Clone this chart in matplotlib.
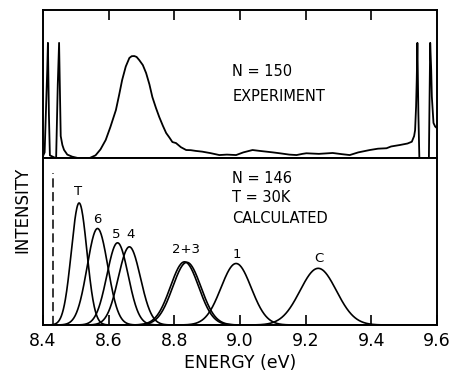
import numpy as np
import matplotlib
matplotlib.use('Agg')
import matplotlib.pyplot as plt

plt.rcParams['font.family'] = 'DejaVu Sans'

exp_energy = [8.397, 8.405, 8.413, 8.415, 8.418, 8.421, 8.440, 8.445, 8.449, 8.452,
              8.454, 8.459, 8.464, 8.474, 8.489, 8.510, 8.540, 8.560, 8.575, 8.591,
              8.605, 8.622, 8.632, 8.641, 8.652, 8.663, 8.670, 8.678, 8.685, 8.693,
              8.704, 8.714, 8.724, 8.733, 8.744, 8.754, 8.765, 8.775, 8.785, 8.794,
              8.805, 8.820, 8.836, 8.850, 8.865, 8.885, 8.910, 8.937, 8.960, 8.988,
              9.010, 9.038, 9.060, 9.080, 9.100, 9.121, 9.150, 9.172, 9.190, 9.202,
              9.240, 9.282, 9.310, 9.334, 9.360, 9.395, 9.420, 9.446, 9.460, 9.487,
              9.510, 9.523, 9.530, 9.533, 9.536, 9.538, 9.540, 9.543, 9.546, 9.575,
              9.577, 9.579, 9.582, 9.584, 9.589, 9.594, 9.599]
exp_intensity = [0.0, 0.04, 0.60, 0.78, 0.30, 0.02, 0.0, 0.50, 0.78, 0.40,
                 0.15, 0.09, 0.057, 0.025, 0.011, 0.0, 0.0, 0.02, 0.06, 0.124,
                 0.21, 0.326, 0.43, 0.529, 0.62, 0.678, 0.69, 0.691, 0.685, 0.664,
                 0.63, 0.576, 0.50, 0.414, 0.34, 0.279, 0.22, 0.171, 0.14, 0.11,
                 0.103, 0.075, 0.056, 0.055, 0.05, 0.045, 0.035, 0.022, 0.025, 0.022,
                 0.04, 0.056, 0.05, 0.045, 0.04, 0.034, 0.025, 0.022, 0.03, 0.034,
                 0.03, 0.036, 0.028, 0.022, 0.04, 0.056, 0.065, 0.068, 0.08, 0.09,
                 0.10, 0.112, 0.15, 0.19, 0.35, 0.53, 0.78, 0.30, 0.0, 0.0,
                 0.40, 0.78, 0.60, 0.416, 0.239, 0.215, 0.205]

# calculated N=146, T=30K bands: centre (eV), peak height, gaussian width (eV)
band_names = ['T', '6', '5', '4', '2', '3', '1', 'C']
band_centre = [8.510, 8.566, 8.627, 8.663, 8.831, 8.838, 8.988, 9.238]
band_height = [0.732, 0.579, 0.493, 0.469, 0.379, 0.376, 0.369, 0.340]
band_sigma = [0.0237, 0.0315, 0.0324, 0.0337, 0.043, 0.043, 0.046, 0.0553]

threshold = 8.4315

xticks = [8.4, 8.6, 8.8, 9.0, 9.2, 9.4, 9.6]
xticklabels = ['8.4', '8.6', '8.8', '9.0', '9.2', '9.4', '9.6']

fig = plt.figure(figsize=(4.53, 3.78), dpi=100)
ax1 = fig.add_axes([0.0949, 0.5812, 0.870, 0.3915])
ax2 = fig.add_axes([0.0949, 0.1402, 0.870, 0.4410])

for ax in (ax1, ax2):
    ax.set_xlim(8.4, 9.6)
    ax.set_ylim(0, 1)
    ax.set_yticks([])
    for sp in ax.spines.values():
        sp.set_linewidth(1.4)

# top panel
ax1.plot(exp_energy, exp_intensity, color='black', lw=1.3)
ax1.set_xticks(xticks[1:-1])
ax1.tick_params(axis='x', direction='in', length=7, width=1.2, bottom=False, top=True,
                labelbottom=False)
ax1.text(0.48, 0.585, 'N = 150', transform=ax1.transAxes, fontsize=10.5, va='center')
ax1.text(0.48, 0.415, 'EXPERIMENT', transform=ax1.transAxes, fontsize=10.5, va='center')

# bottom panel
x = np.linspace(8.4, 9.6, 1200)
for c, h, s in zip(band_centre, band_height, band_sigma):
    ax2.plot(x, h * np.exp(-0.5 * ((x - c) / s) ** 2), color='black', lw=1.2)
ax2.plot([threshold, threshold], [0, 0.91], color='black', lw=1.1, dashes=(6, 3))

ax2.set_xticks(xticks)
ax2.set_xticklabels(xticklabels)
ax2.tick_params(axis='x', direction='in', length=7, width=1.2, labelsize=12.5, pad=5)
ax2.set_xlabel('ENERGY (eV)', fontsize=12.5, labelpad=3)

ax2.text(0.48, 0.88, 'N = 146', transform=ax2.transAxes, fontsize=10.5, va='center')
ax2.text(0.48, 0.765, 'T = 30K', transform=ax2.transAxes, fontsize=10.5, va='center')
ax2.text(0.48, 0.64, 'CALCULATED', transform=ax2.transAxes, fontsize=10.5, va='center')

peak_labels = ['T', '6', '5', '4', '2+3', '1', 'C']
label_x = [8.508, 8.566, 8.622, 8.668, 8.834, 8.990, 9.240]
label_y = [0.80, 0.63, 0.545, 0.545, 0.45, 0.42, 0.40]
for t, lx, ly in zip(peak_labels, label_x, label_y):
    ax2.text(lx, ly, t, fontsize=9.5, ha='center', va='center')

fig.text(0.05, 0.445, 'INTENSITY', rotation=90, fontsize=12, ha='center', va='center')

fig.savefig('out.png', dpi=100)
